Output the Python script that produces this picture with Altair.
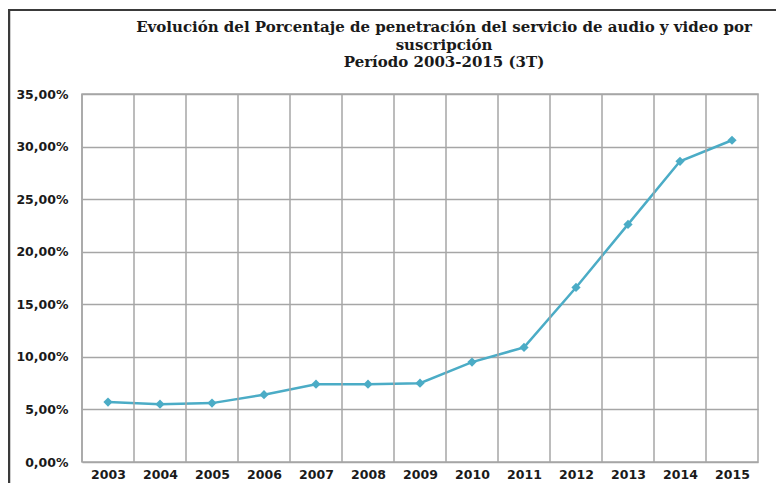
import altair as alt
import pandas as pd

years = [2003, 2004, 2005, 2006, 2007, 2008, 2009, 2010, 2011, 2012, 2013, 2014, 2015]
penetration = [0.057, 0.055, 0.056, 0.064, 0.074, 0.074, 0.075, 0.095, 0.109, 0.166, 0.226, 0.286, 0.306]
y_ticks = [0, 0.05, 0.10, 0.15, 0.20, 0.25, 0.30, 0.35]
title_lines = [
    "Evolución del Porcentaje de penetración del servicio de audio y video por",
    "suscripción",
    "Período 2003-2015 (3T)",
]

df = pd.DataFrame({"year": years, "value": penetration})

W, H = 676, 368
grid_color = "#a6a6a6"

xscale = alt.Scale(domain=[2002.5, 2015.5], nice=False, zero=False)
yscale = alt.Scale(domain=[0, 0.35], nice=False)

x_axis = alt.Axis(
    values=years, format="d", grid=False, ticks=False, domain=False,
    title=None, labelFont="DejaVu Sans", labelFontWeight="bold",
    labelFontSize=12.5, labelColor="#1a1a1a", labelPadding=6,
)

base = alt.Chart(df)

line = base.mark_line(color="#4BACC6", strokeWidth=2.5).encode(
    x=alt.X("year:Q", scale=xscale, axis=x_axis),
    y=alt.Y(
        "value:Q",
        scale=yscale,
        axis=alt.Axis(
            values=y_ticks, grid=True, gridColor=grid_color, gridWidth=1.5,
            ticks=False, domain=False, title=None,
            labelExpr="replace(format(datum.value, '.2%'), '.', ',')",
            labelFont="DejaVu Sans", labelFontWeight="bold", labelFontSize=12.5,
            labelColor="#1a1a1a", labelPadding=14,
        ),
    ),
)

vgrid = base.mark_rule(color=grid_color, strokeWidth=1.5).transform_calculate(
    b="datum.year - 0.5"
).encode(x=alt.X("b:Q", scale=xscale, axis=x_axis))

points = base.mark_point(
    shape="diamond", filled=True, color="#4BACC6", size=85, opacity=1
).encode(x=alt.X("year:Q", scale=xscale, axis=x_axis), y=alt.Y("value:Q", scale=yscale))

one = pd.DataFrame({"k": [0]})

frame_left = alt.Chart(one).mark_rule(
    color="#3a3a3a", strokeWidth=2.5, clip=False
).encode(x=alt.value(-73), y=alt.value(-84), y2=alt.value(400))
frame_top = alt.Chart(one).mark_rule(
    color="#3a3a3a", strokeWidth=2, clip=False
).encode(x=alt.value(-74), x2=alt.value(720), y=alt.value(-84))

title = alt.Chart(one).mark_text(
    text=title_lines, font="DejaVu Serif", fontWeight="bold", fontSize=15,
    color="#1a1a1a", lineHeight=17.5, align="center", baseline="middle",
).encode(x=alt.value(362), y=alt.value(-67))

chart = (
    alt.layer(line, vgrid, points, frame_left, frame_top, title)
    .properties(
        width=W,
        height=H,
        autosize=alt.AutoSizeParams(type="none"),
        padding={"left": 74, "top": 86, "right": 18, "bottom": 21},
    )
    .configure_view(stroke=grid_color, strokeWidth=1.5)
)

chart.save("out.html", embed_options={"renderer": "svg", "actions": False})
